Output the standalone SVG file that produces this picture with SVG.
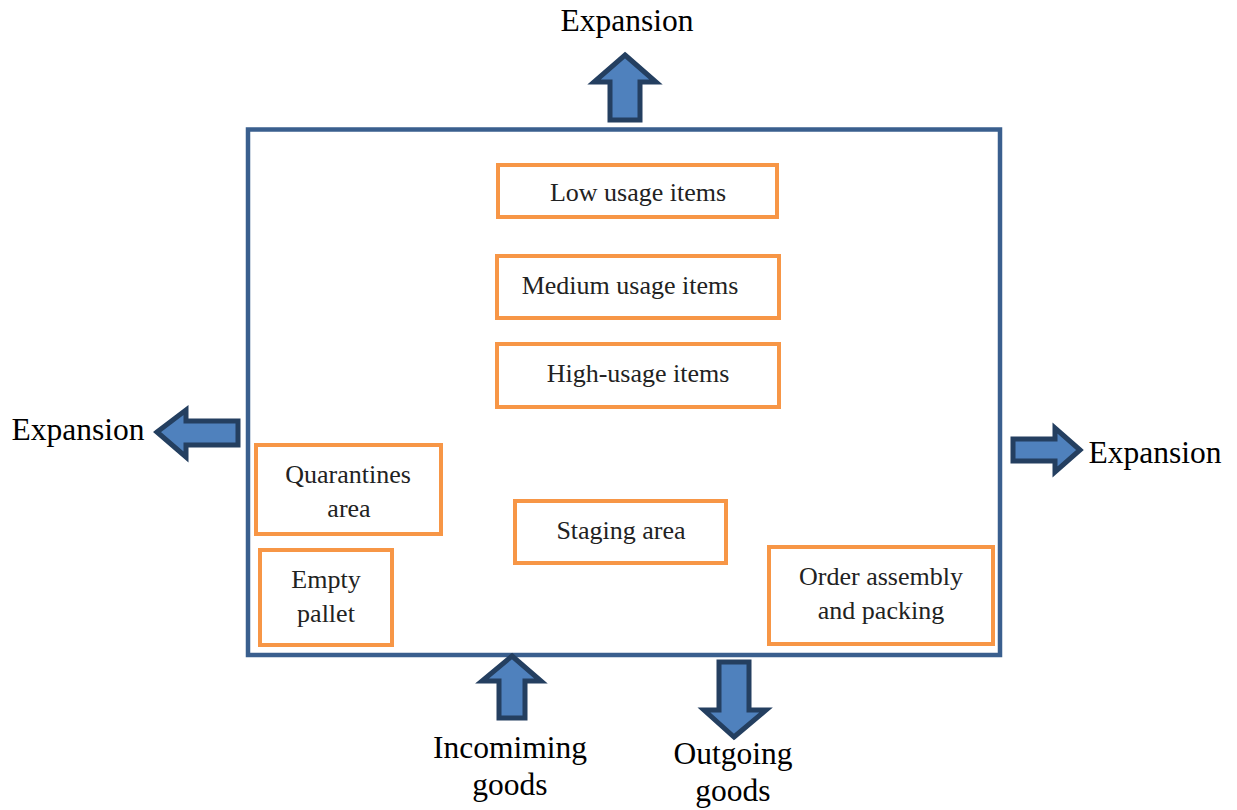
<svg xmlns="http://www.w3.org/2000/svg" width="1237" height="810" viewBox="0 0 1237 810">
  <style>
    .zone { fill: #ffffff; stroke: #F79646; stroke-width: 4; }
    .zone-text { font-family: "Liberation Serif", "Times New Roman", serif; font-size: 26px; fill: #222222; text-anchor: middle; }
    .label { font-family: "Liberation Serif", "Times New Roman", serif; font-size: 31.5px; fill: #000000; text-anchor: middle; }
    .arrow { fill: #4F81BD; stroke: #243F60; stroke-width: 5; stroke-linejoin: miter; }
    .building { fill: #ffffff; stroke: #3A5F8E; stroke-width: 4.5; }
  </style>
  <rect width="1237" height="810" fill="#ffffff"/>

  <!-- warehouse outline -->
  <g id="warehouse">
    <rect class="building" x="248" y="129.5" width="752" height="525.5"/>
  </g>

  <!-- flow / expansion arrows -->
  <g id="connectors">
    <path class="arrow" d="M625,55 L656,82 L640,82 L640,120 L610,120 L610,82 L594,82 Z"/>
    <path class="arrow" d="M157,432 L186,410 L186,421 L238,421 L238,445 L186,445 L186,457 Z"/>
    <path class="arrow" d="M1080,450 L1055,428 L1055,439 L1013,439 L1013,461 L1055,461 L1055,472 Z"/>
    <path class="arrow" d="M512,656 L541,681 L525,681 L525,718 L499,718 L499,681 L482,681 Z"/>
    <path class="arrow" d="M734,737 L766,710 L749,710 L749,662 L719,662 L719,710 L704,710 Z"/>
  </g>

  <g id="low-usage">
    <rect class="zone" x="498" y="165" width="279" height="52"/>
    <text class="zone-text" x="638" y="201">Low usage items</text>
  </g>
  <g id="medium-usage">
    <rect class="zone" x="497" y="256" width="282" height="62"/>
    <text class="zone-text" x="630" y="294">Medium usage items</text>
  </g>
  <g id="high-usage">
    <rect class="zone" x="497" y="344" width="282" height="63"/>
    <text class="zone-text" x="638" y="382">High-usage items</text>
  </g>
  <g id="quarantine">
    <rect class="zone" x="256" y="445" width="185" height="89"/>
    <text class="zone-text" x="348" y="483">Quarantines</text>
    <text class="zone-text" x="349" y="517">area</text>
  </g>
  <g id="empty-pallet">
    <rect class="zone" x="260" y="550" width="132" height="95"/>
    <text class="zone-text" x="326" y="588">Empty</text>
    <text class="zone-text" x="326" y="622">pallet</text>
  </g>
  <g id="staging">
    <rect class="zone" x="515" y="501" width="211" height="62"/>
    <text class="zone-text" x="621" y="539">Staging area</text>
  </g>
  <g id="order-assembly">
    <rect class="zone" x="769" y="547" width="224" height="97"/>
    <text class="zone-text" x="881" y="585">Order assembly</text>
    <text class="zone-text" x="881" y="619">and packing</text>
  </g>

  <g id="labels">
    <text class="label" x="627" y="31">Expansion</text>
    <text class="label" x="78" y="440">Expansion</text>
    <text class="label" x="1155" y="463">Expansion</text>
    <text class="label" x="510" y="758">Incomiming</text>
    <text class="label" x="510" y="795">goods</text>
    <text class="label" x="733" y="764">Outgoing</text>
    <text class="label" x="733" y="801">goods</text>
  </g>
</svg>
